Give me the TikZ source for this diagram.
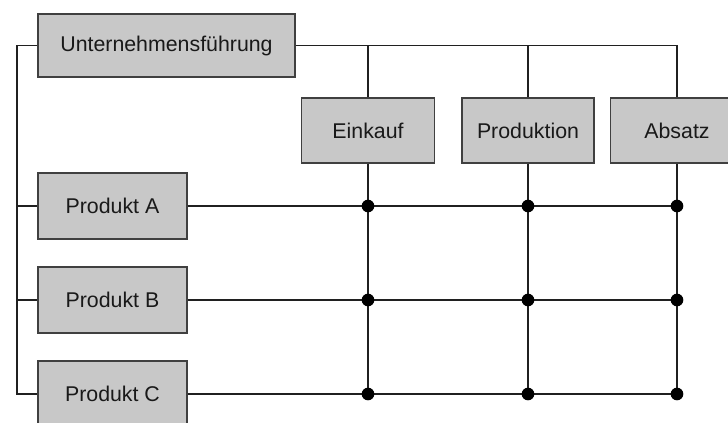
\documentclass[tikz,border=0pt]{standalone}
\usepackage{fontspec}
\setmainfont{Liberation Sans}
\definecolor{boxfill}{HTML}{C8C8C8}
\definecolor{boxdraw}{HTML}{404040}
\definecolor{linecol}{HTML}{202020}
\begin{document}
\begin{tikzpicture}[x=0.75pt,y=-0.75pt,
  orgbox/.style={draw=boxdraw,fill=boxfill,line width=1.1pt,inner sep=0pt,
    font=\fontsize{16}{19}\selectfont,text=black!90},
  conn/.style={draw=linecol,line width=1.1pt},
  junction/.style={circle,fill=black,inner sep=0pt,minimum size=9.5pt}]
\useasboundingbox (0,0) rectangle (728,423);
% boxes
\node[orgbox,minimum width=192.75pt,minimum height=47.25pt] (U) at (166.5,45.5) {Unternehmensführung};
\node[orgbox,minimum width=99.75pt,minimum height=48.75pt] (E) at (368,130.5) {Einkauf};
\node[orgbox,minimum width=99pt,minimum height=48.75pt] (P) at (528,130.5) {Produktion};
\node[orgbox,minimum width=99.75pt,minimum height=48.75pt] (S) at (677,130.5) {Absatz};
\node[orgbox,minimum width=111.75pt,minimum height=49.5pt] (A) at (112.5,206) {Produkt A};
\node[orgbox,minimum width=111.75pt,minimum height=49.5pt] (B) at (112.5,300) {Produkt B};
\node[orgbox,minimum width=111.75pt,minimum height=49.5pt] (C) at (112.5,394) {Produkt C};
% coordinates
\coordinate (lt) at (17,45.5);
\coordinate (lA) at (17,206);
\coordinate (lB) at (17,300);
\coordinate (lC) at (17,394);
\coordinate (tE) at (E.north |- U.east);
\coordinate (tP) at (P.north |- U.east);
\coordinate (tS) at (S.north |- U.east);
\coordinate (EA) at (E.south |- A.east);
\coordinate (EB) at (E.south |- B.east);
\coordinate (EC) at (E.south |- C.east);
\coordinate (PA) at (P.south |- A.east);
\coordinate (PB) at (P.south |- B.east);
\coordinate (PC) at (P.south |- C.east);
\coordinate (SA) at (S.south |- A.east);
\coordinate (SB) at (S.south |- B.east);
\coordinate (SC) at (S.south |- C.east);
% connectors
\draw[conn] (U.west) -- (lt) -- (lC) -- (C.west);
\draw[conn] (lA) -- (A.west);
\draw[conn] (lB) -- (B.west);
\draw[conn] (U.east) -- (tS) -- (S.north);
\draw[conn] (tE) -- (E.north);
\draw[conn] (tP) -- (P.north);
\draw[conn] (E.south) -- (EC);
\draw[conn] (P.south) -- (PC);
\draw[conn] (S.south) -- (SC);
\draw[conn] (A.east) -- (SA);
\draw[conn] (B.east) -- (SB);
\draw[conn] (C.east) -- (SC);
% junctions
\foreach \j in {EA,EB,EC,PA,PB,PC,SA,SB,SC}
  \node[junction] (d\j) at (\j) {};
\end{tikzpicture}
\end{document}
